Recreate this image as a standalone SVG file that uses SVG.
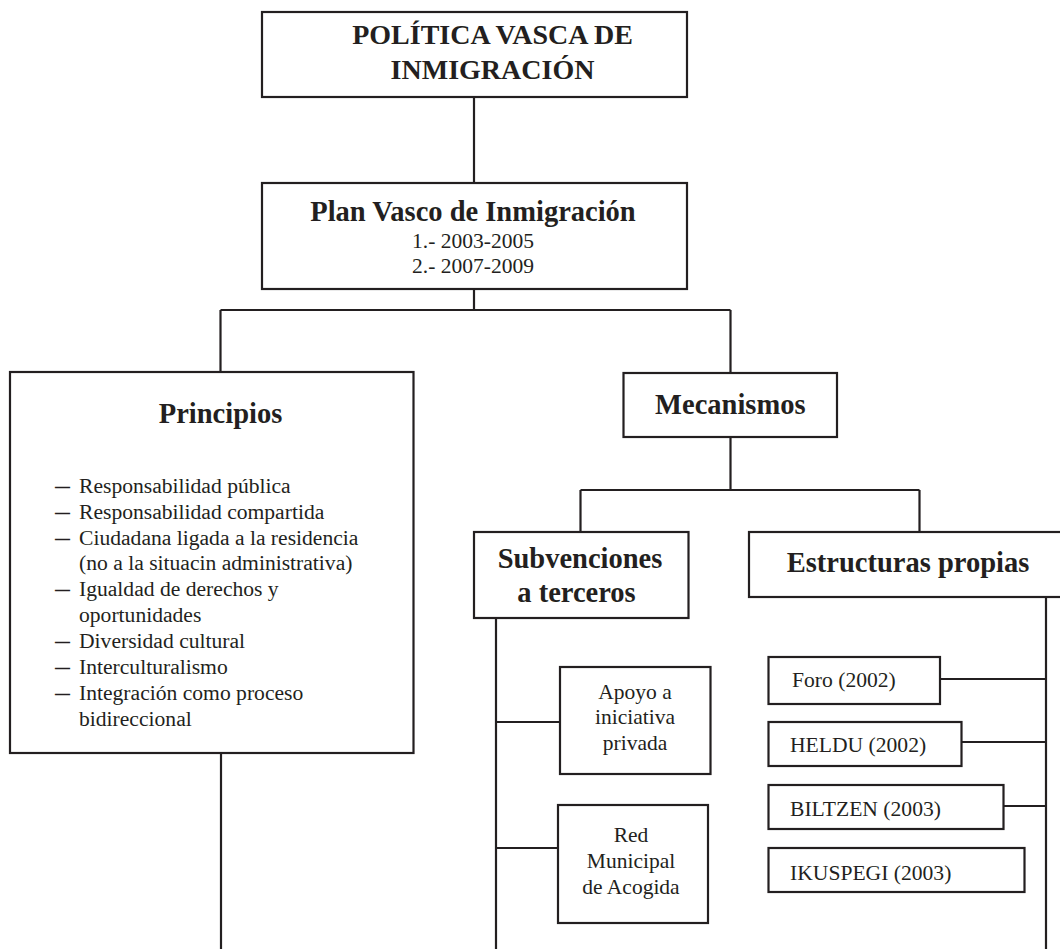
<svg xmlns="http://www.w3.org/2000/svg" width="1060" height="949" viewBox="0 0 1060 949">
<style>
  .box { fill: #ffffff; stroke: #231f20; stroke-width: 2.2; }
  .conn { fill: none; stroke: #231f20; stroke-width: 2.2; }
  text { font-family: "Liberation Serif", "Times New Roman", serif; fill: #231f20; }
  .h { font-weight: bold; font-size: 28.5px; text-anchor: middle; }
  .t { font-size: 21.6px; }
  .c { font-size: 21.5px; text-anchor: middle; }
  .dash { font-size: 21.6px; font-weight: bold; }
</style>
<rect width="1060" height="949" fill="#ffffff"/>
<g id="connectors">
  <path class="conn" d="M474,97 V183"/>
  <path class="conn" d="M474,289 V310 M220.5,310 H730.5 M220.5,310 V372 M730.5,310 V373"/>
  <path class="conn" d="M221,753 V949"/>
  <path class="conn" d="M730.5,437 V490 M580.5,490 H919.5 M580.5,490 V532 M919.5,490 V532"/>
  <path class="conn" d="M496,618 V949 M496,722 H560 M496,848 H558"/>
  <path class="conn" d="M1046,597 V949 M940,679 H1046 M961.5,742 H1046 M1003.5,806 H1046"/>
</g>
<g id="politica">
  <rect class="box" x="262" y="12" width="425" height="85"/>
  <text class="h" style="font-size:28px" x="492.5" y="44.3">POLÍTICA VASCA DE</text>
  <text class="h" style="font-size:28px" x="492.5" y="79.3">INMIGRACIÓN</text>
</g>
<g id="plan">
  <rect class="box" x="262" y="183" width="425" height="106"/>
  <text class="h" x="473" y="221">Plan Vasco de Inmigración</text>
  <text class="c" x="473" y="248.3">1.- 2003-2005</text>
  <text class="c" x="473" y="273.3">2.- 2007-2009</text>
</g>
<g id="principios">
  <rect class="box" x="10" y="372" width="403.5" height="381"/>
  <text class="h" x="220.5" y="423.3">Principios</text>
  <g class="dash">
    <text x="55" y="493" textLength="15" lengthAdjust="spacingAndGlyphs">—</text>
    <text x="55" y="519" textLength="15" lengthAdjust="spacingAndGlyphs">—</text>
    <text x="55" y="544.5" textLength="15" lengthAdjust="spacingAndGlyphs">—</text>
    <text x="55" y="596.3" textLength="15" lengthAdjust="spacingAndGlyphs">—</text>
    <text x="55" y="648" textLength="15" lengthAdjust="spacingAndGlyphs">—</text>
    <text x="55" y="673.8" textLength="15" lengthAdjust="spacingAndGlyphs">—</text>
    <text x="55" y="699.6" textLength="15" lengthAdjust="spacingAndGlyphs">—</text>
  </g>
  <g class="t">
    <text x="79" y="493">Responsabilidad pública</text>
    <text x="79" y="519">Responsabilidad compartida</text>
    <text x="79" y="544.5">Ciudadana ligada a la residencia</text>
    <text x="79" y="570.4">(no a la situacin administrativa)</text>
    <text x="79" y="596.3">Igualdad de derechos y</text>
    <text x="79" y="622.1">oportunidades</text>
    <text x="79" y="648">Diversidad cultural</text>
    <text x="79" y="673.8">Interculturalismo</text>
    <text x="79" y="699.6">Integración como proceso</text>
    <text x="79" y="725.5">bidireccional</text>
  </g>
</g>
<g id="mecanismos">
  <rect class="box" x="623.5" y="373" width="213.5" height="64"/>
  <text class="h" x="730.3" y="414.3">Mecanismos</text>
</g>
<g id="subvenciones">
  <rect class="box" x="474" y="532" width="214.5" height="86"/>
  <text class="h" x="580" y="568">Subvenciones</text>
  <text class="h" x="576.5" y="602">a terceros</text>
</g>
<g id="estructuras">
  <rect class="box" x="749" y="532" width="330" height="65"/>
  <text class="h" x="908" y="572.3">Estructuras propias</text>
</g>
<g id="apoyo">
  <rect class="box" x="560" y="667" width="150.5" height="107"/>
  <text class="c" x="635" y="699">Apoyo a</text>
  <text class="c" x="635" y="724.3">iniciativa</text>
  <text class="c" x="635" y="750">privada</text>
</g>
<g id="red">
  <rect class="box" x="558" y="805" width="150" height="118"/>
  <text class="c" x="631" y="842.3">Red</text>
  <text class="c" x="631" y="868.3">Municipal</text>
  <text class="c" x="631" y="894">de Acogida</text>
</g>
<g id="foro">
  <rect class="box" x="768.5" y="657" width="171.5" height="47"/>
  <text class="t" x="792" y="687">Foro (2002)</text>
</g>
<g id="heldu">
  <rect class="box" x="768.5" y="722" width="193" height="44"/>
  <text class="t" x="790" y="752">HELDU (2002)</text>
</g>
<g id="biltzen">
  <rect class="box" x="768.5" y="785" width="235" height="44"/>
  <text class="t" x="790" y="816">BILTZEN (2003)</text>
</g>
<g id="ikuspegi">
  <rect class="box" x="768.5" y="848" width="256" height="44"/>
  <text class="t" x="790" y="880">IKUSPEGI (2003)</text>
</g>
</svg>
